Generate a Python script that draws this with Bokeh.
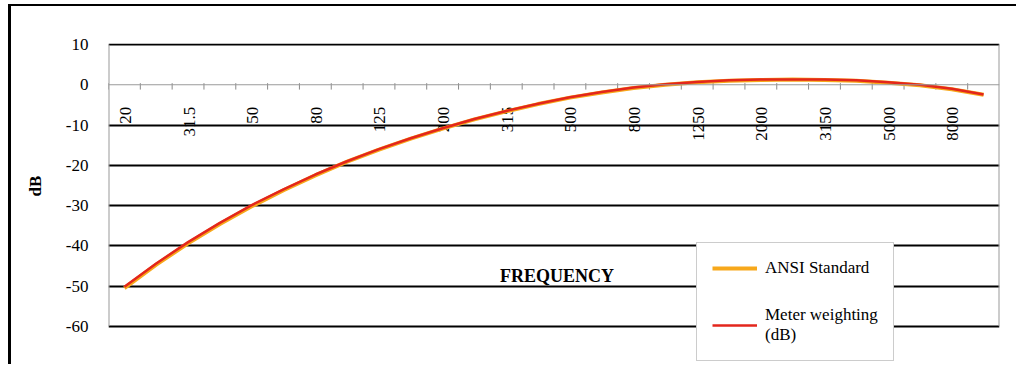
import math
from bokeh.plotting import figure
from bokeh.models import (ColumnDataSource, Range1d, FixedTicker, Span, Legend,
                          LegendItem)
from bokeh.transform import dodge
from bokeh.core.properties import value
from bokeh.embed import file_html
from bokeh.resources import INLINE

freqs = ["20", "25", "31.5", "40", "50", "63", "80", "100", "125", "160", "200",
         "250", "315", "400", "500", "630", "800", "1000", "1250", "1600", "2000",
         "2500", "3150", "4000", "5000", "6300", "8000", "10000"]
ansi_standard = [-50.5, -44.7, -39.4, -34.6, -30.2, -26.2, -22.5, -19.1, -16.1, -13.4,
                 -10.9, -8.6, -6.6, -4.8, -3.2, -1.9, -0.8, 0.0, 0.6, 1.0, 1.2, 1.3,
                 1.2, 1.0, 0.5, -0.1, -1.1, -2.5]
meter_weighting = [-50.2, -44.4, -39.1, -34.3, -29.9, -26.0, -22.3, -19.0, -16.0, -13.3,
                   -10.8, -8.5, -6.5, -4.7, -3.1, -1.8, -0.7, 0.1, 0.7, 1.1, 1.3, 1.3,
                   1.3, 1.1, 0.6, 0.0, -1.0, -2.4]
tick_labels = freqs[::2]
y_ticks = [10, 0, -10, -20, -30, -40, -50, -60]
grid_ticks = [10, -10, -20, -30, -40, -50, -60]

FONT = "Liberation Serif"

p = figure(width=1008, height=360, x_range=freqs, y_range=Range1d(-69, 10.25),
           x_axis_location=None, output_backend="svg", toolbar_location=None,
           min_border_left=97, min_border_right=20, min_border_top=37,
           min_border_bottom=4)
p.styles = {"border-left": "3px solid black", "border-top": "2px solid black",
            "margin-left": "8px", "margin-top": "4px"}
p.background_fill_color = "white"
p.border_fill_color = "white"
p.outline_line_color = None

# y axis
yax = p.yaxis[0]
yax.ticker = FixedTicker(ticks=y_ticks)
yax.major_label_overrides = {t: str(t) for t in y_ticks}
yax.axis_line_color = None
yax.major_tick_line_color = None
yax.minor_tick_line_color = None
yax.major_label_standoff = 14
yax.major_label_text_font = FONT
yax.major_label_text_font_size = "17px"
yax.major_label_text_color = "black"
yax.axis_label = "\u00a0" * 8 + "dB"
yax.axis_label_text_font = FONT
yax.axis_label_text_font_style = "bold"
yax.axis_label_text_font_size = "17px"
yax.axis_label_text_color = "black"
yax.axis_label_standoff = 18

p.xgrid.visible = False
p.ygrid.ticker = FixedTicker(ticks=grid_ticks)
p.ygrid.grid_line_color = "black"
p.ygrid.grid_line_width = 2

# plot-area side borders (light grey)
p.segment(x0=dodge("f", -0.5, range=p.x_range), y0="a", x1=dodge("f", -0.5, range=p.x_range),
          y1="b", source=ColumnDataSource(dict(f=freqs[:1], a=[10], b=[-60])),
          line_color="#9a9a9a", line_width=2)
p.segment(x0=dodge("f", 0.5, range=p.x_range), y0="a", x1=dodge("f", 0.5, range=p.x_range),
          y1="b", source=ColumnDataSource(dict(f=freqs[-1:], a=[10], b=[-60])),
          line_color="#9a9a9a", line_width=2)

# category axis drawn at y = 0
p.add_layout(Span(location=0, dimension="width", line_color="#9a9a9a", line_width=1))
tick_src = ColumnDataSource(dict(f=freqs, y0=[0.4] * len(freqs), y1=[-1.2] * len(freqs)))
p.segment(x0=dodge("f", -0.5, range=p.x_range), y0="y0",
          x1=dodge("f", -0.5, range=p.x_range), y1="y1",
          source=tick_src, line_color="#8a8a8a", line_width=1)
lab_src = ColumnDataSource(dict(f=tick_labels, y=[0] * len(tick_labels), t=tick_labels))
p.text(x="f", y="y", text="t", source=lab_src, angle=math.pi / 2,
       text_align="right", text_baseline="middle", y_offset=22, x_offset=1,
       text_font=value(FONT), text_font_size="17px", text_color="black")

# axis title inside plot
p.text(x=["500"], y=[-47.5], text=["FREQUENCY"], text_align="center",
       text_baseline="middle", x_offset=-13, text_font=value(FONT),
       text_font_style="bold", text_font_size="18px", text_color="black")

src = ColumnDataSource(dict(f=freqs, ansi=ansi_standard, meter=meter_weighting))
r1 = p.line("f", "ansi", source=src, line_color="#F7A81B", line_width=4)
r2 = p.line("f", "meter", source=src, line_color="#E3261C", line_width=2.5)

legend = Legend(items=[LegendItem(label="ANSI Standard", renderers=[r1]),
                       LegendItem(label="Meter weighting\n(dB)", renderers=[r2])],
                location=(588, 1), orientation="vertical")
legend.padding = 15
legend.spacing = 27
legend.glyph_width = 45
legend.glyph_height = 18
legend.label_standoff = 8
legend.label_text_font = FONT
legend.label_text_font_size = "17px"
legend.label_text_color = "black"
legend.border_line_color = "#9a9a9a"
legend.border_line_width = 1
legend.background_fill_color = "white"
legend.background_fill_alpha = 1
p.add_layout(legend, "center")

open("out.html", "w").write(file_html(p, INLINE))
